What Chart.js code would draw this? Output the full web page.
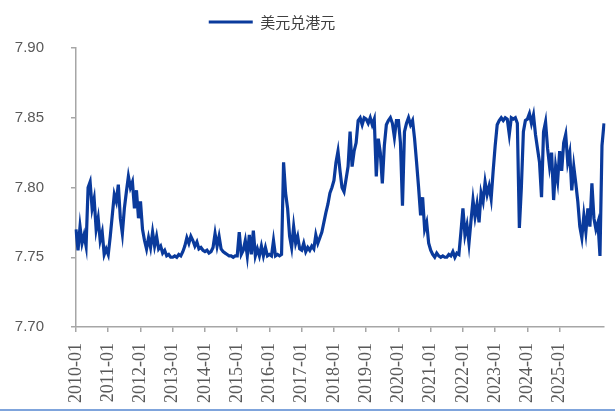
<!DOCTYPE html>
<html><head><meta charset="utf-8">
<script src="https://cdn.jsdelivr.net/npm/chart.js@4.4.1/dist/chart.umd.min.js"></script>
<style>
html,body{margin:0;padding:0;background:#fff;}
#wrap{width:615px;height:411px;box-sizing:border-box;border-bottom:2px solid #7fa4dc;position:relative;overflow:hidden;}
canvas{display:block;}
</style></head><body>
<div id="wrap"><canvas id="c" width="615" height="409"></canvas></div>
<script>
const seriesName = '美元兑港元';
const tickLabels = ['2010-01','2011-01','2012-01','2013-01','2014-01','2015-01','2016-01','2017-01',
  '2018-01','2019-01','2020-01','2021-01','2022-01','2023-01','2024-01','2025-01'];
const pointsPerTick = 16;
const usdHkd = [
  // 2010
  7.770, 7.755, 7.772, 7.760, 7.766, 7.758, 7.800, 7.804, 7.785, 7.792, 7.770, 7.778, 7.762, 7.768, 7.752, 7.756,
  // 2011
  7.752, 7.765, 7.780, 7.795, 7.790, 7.802, 7.778, 7.767, 7.785, 7.797, 7.808, 7.800, 7.804, 7.785, 7.798, 7.778,
  // 2012
  7.790, 7.770, 7.762, 7.756, 7.764, 7.757, 7.768, 7.758, 7.765, 7.756, 7.758, 7.753, 7.755, 7.751, 7.752, 7.750,
  // 2013
  7.750, 7.751, 7.750, 7.752, 7.751, 7.754, 7.758, 7.764, 7.760, 7.765, 7.762, 7.758, 7.761, 7.756, 7.757, 7.755,
  // 2014
  7.754, 7.755, 7.753, 7.754, 7.757, 7.767, 7.758, 7.765, 7.756, 7.754, 7.753, 7.752, 7.751, 7.751, 7.750, 7.751,
  // 2015
  7.751, 7.768, 7.752, 7.755, 7.762, 7.751, 7.766, 7.752, 7.769, 7.751, 7.756, 7.751, 7.758, 7.751, 7.757, 7.751,
  // 2016
  7.752, 7.751, 7.762, 7.751, 7.752, 7.751, 7.752, 7.818, 7.796, 7.785, 7.765, 7.757, 7.772, 7.760, 7.765, 7.756,
  // 2017
  7.755, 7.760, 7.754, 7.757, 7.755, 7.758, 7.756, 7.766, 7.760, 7.764, 7.768, 7.775, 7.782, 7.788, 7.796, 7.800,
  // 2018
  7.805, 7.818, 7.826, 7.812, 7.800, 7.797, 7.806, 7.815, 7.840, 7.815, 7.826, 7.832, 7.848, 7.850, 7.845, 7.850,
  // 2019
  7.849, 7.846, 7.850, 7.845, 7.849, 7.808, 7.835, 7.825, 7.803, 7.830, 7.845, 7.848, 7.850, 7.846, 7.836, 7.848,
  // 2020
  7.848, 7.832, 7.787, 7.840, 7.846, 7.850, 7.845, 7.848, 7.835, 7.818, 7.800, 7.780, 7.793, 7.770, 7.775, 7.760,
  // 2021
  7.755, 7.752, 7.750, 7.753, 7.751, 7.750, 7.751, 7.750, 7.750, 7.752, 7.751, 7.754, 7.750, 7.753, 7.752, 7.768,
  // 2022
  7.785, 7.766, 7.773, 7.760, 7.776, 7.791, 7.779, 7.788, 7.775, 7.796, 7.790, 7.804, 7.795, 7.801, 7.792, 7.812,
  // 2023
  7.830, 7.845, 7.848, 7.850, 7.848, 7.850, 7.849, 7.838, 7.850, 7.849, 7.850, 7.846, 7.771, 7.800, 7.840, 7.848,
  // 2024
  7.849, 7.853, 7.846, 7.852, 7.838, 7.828, 7.818, 7.793, 7.840, 7.847, 7.828, 7.815, 7.825, 7.791, 7.815, 7.805,
  // 2025
  7.826, 7.812, 7.832, 7.838, 7.818, 7.825, 7.798, 7.815, 7.803, 7.790, 7.772, 7.764, 7.780, 7.768, 7.785, 7.772,
  7.803, 7.778, 7.770, 7.775, 7.751, 7.830, 7.846
];
const categories = usdHkd.map((_, i) =>
  (i % pointsPerTick === 0 && tickLabels[i / pointsPerTick]) ? tickLabels[i / pointsPerTick] : '');

const axisColor = '#a6a6a6';
const lineColor = '#0a3a9c';

const legendTweak = {
  id: 'legendTweak',
  beforeInit(chart) {
    const lg = chart.legend;
    if (!lg) return;
    const fit = lg.fit;
    lg.fit = function () { fit.call(this); this.height += 8.5; };
  },
  afterLayout(chart) {
    const lg = chart.legend;
    if (!lg) return;
    lg.left -= 30; lg.right -= 30;
  }
};

new Chart(document.getElementById('c'), {
  type: 'line',
  data: {
    labels: categories,
    datasets: [{
      label: seriesName,
      data: usdHkd,
      borderColor: lineColor,
      backgroundColor: lineColor,
      borderWidth: 3.2,
      pointRadius: 0,
      tension: 0,
      fill: false
    }]
  },
  options: {
    responsive: false,
    animation: false,
    layout: { padding: { top: 4.5, left: 0, right: 11, bottom: 0 } },
    plugins: {
      legend: {
        display: true, position: 'top', align: 'center',
        labels: {
          boxWidth: 44, boxHeight: 3, padding: 10, color: '#404040',
          font: { family: '"Noto Sans CJK SC", "Noto Sans", sans-serif', size: 15 },
          generateLabels(chart) {
            const items = Chart.defaults.plugins.legend.labels.generateLabels(chart);
            items.forEach(it => { it.lineWidth = 0; it.fillStyle = lineColor; });
            return items;
          }
        }
      },
      tooltip: { enabled: false }
    },
    scales: {
      x: {
        type: 'category', offset: false,
        grid: { display: true, drawOnChartArea: false, drawTicks: true, tickLength: 5, color: axisColor, lineWidth: 1.5 },
        border: { display: true, color: axisColor, width: 1.5 },
        ticks: {
          autoSkip: false, maxRotation: 90, minRotation: 90, padding: 11, color: '#595959',
          font: { family: '"Liberation Serif", serif', size: 18 },
          callback(v, i) { const l = categories[i]; return l ? l : null; }
        },
        afterFit(s) { s.height = 409 - 327; }
      },
      y: {
        min: 7.70, max: 7.90,
        grid: { display: true, drawOnChartArea: false, drawTicks: true, tickLength: 5, color: axisColor, lineWidth: 1.5 },
        border: { display: true, color: axisColor, width: 1.5 },
        ticks: {
          stepSize: 0.05, padding: 27, color: '#595959',
          font: { family: '"Liberation Sans", Arial, sans-serif', size: 15 },
          callback: v => Number(v).toFixed(2)
        },
        afterFit(s) { s.width = 76; }
      }
    }
  },
  plugins: [legendTweak]
});
</script>
</body></html>
